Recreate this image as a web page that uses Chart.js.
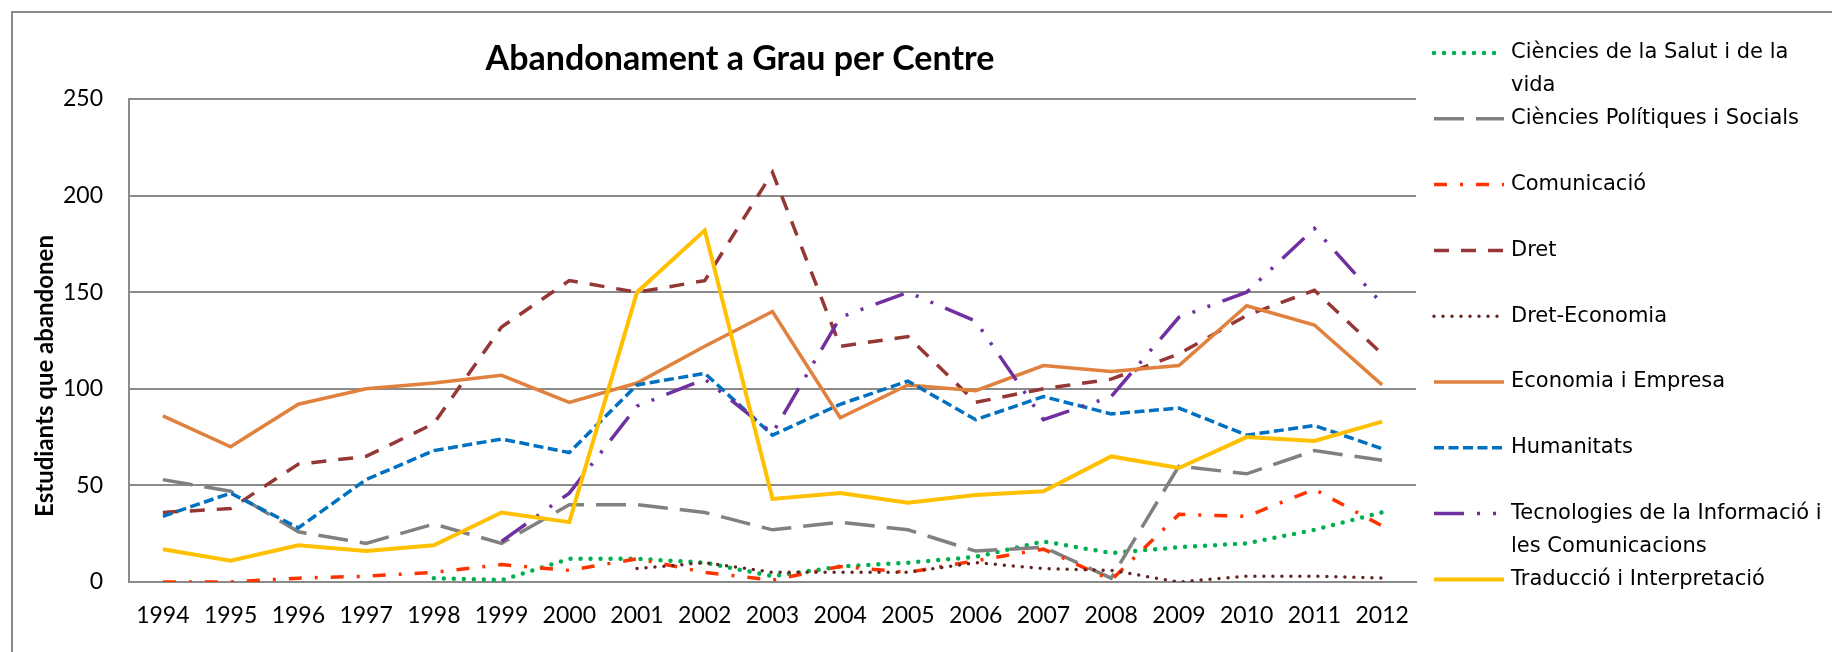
<!DOCTYPE html>
<html>
<head>
<meta charset="utf-8">
<title>Abandonament a Grau per Centre</title>
<script src="https://cdn.jsdelivr.net/npm/chart.js@4.4.0/dist/chart.umd.min.js"></script>
<style>
  html, body { margin: 0; padding: 0; background: #fff; }
  #wrap { position: relative; width: 1832px; height: 652px; overflow: hidden; }
</style>
</head>
<body>
<div id="wrap"><canvas id="grau" width="1832" height="652"></canvas></div>
<script>
// anys acadèmics
const years = ['1994', '1995', '1996', '1997', '1998', '1999', '2000', '2001', '2002', '2003',
               '2004', '2005', '2006', '2007', '2008', '2009', '2010', '2011', '2012'];

// estudiants que abandonen, per centre (null = el centre encara no tenia dades)
const salut       = [null, null, null, null, 2, 1, 12, 12, 10, 3, 8, 10, 13, 21, 15, 18, 20, 27, 36];
const politiques  = [53, 47, 26, 20, 30, 20, 40, 40, 36, 27, 31, 27, 16, 18, 2, 60, 56, 68, 63];
const comunicacio = [0, 0, 2, 3, 5, 9, 6, 12, 5, 1, 8, 5, 11, 17, 1, 35, 34, 48, 29];
const dret        = [36, 38, 61, 65, 82, 132, 156, 150, 156, 212, 122, 127, 93, 100, 105, 118, 138, 151, 118];
const dretEco     = [null, null, null, null, null, null, null, 7, 10, 5, 5, 5, 10, 7, 6, 0, 3, 3, 2];
const economia    = [86, 70, 92, 100, 103, 107, 93, 103, 122, 140, 85, 102, 99, 112, 109, 112, 143, 133, 102];
const humanitats  = [34, 46, 28, 53, 68, 74, 67, 102, 108, 76, 92, 104, 84, 96, 87, 90, 76, 81, 69];
const tecnologies = [null, null, null, null, null, 21, 46, 91, 105, 77, 137, 150, 135, 84, 96, 137, 150, 183, 144];
const traduccio   = [17, 11, 19, 16, 19, 36, 31, 150, 182, 43, 46, 41, 45, 47, 65, 59, 75, 73, 83];

const yTicks = [0, 50, 100, 150, 200, 250];

const GRID = '#8a8a8a';
const TICK_FONT = { family: 'Lato', size: 23 };

function serie(label, data, color, width, dash, cap) {
  return {
    label: label,
    data: data,
    borderColor: color,
    backgroundColor: color,
    borderWidth: width,
    borderDash: dash,
    borderCapStyle: cap || 'butt',
    fill: false,
    spanGaps: false
  };
}

const datasets = [
  serie('Ciències de la Salut i de la vida', salut, '#00b050', 4.5, [0, 10], 'round'),
  serie('Ciències Polítiques i Socials', politiques, '#808080', 3.5, [30, 12]),
  serie('Comunicació', comunicacio, '#ff3300', 3.5, [13, 13, 3, 13]),
  serie('Dret', dret, '#953735', 3.5, [15, 12]),
  serie('Dret-Economia', dretEco, '#632523', 3.5, [0, 9], 'round'),
  serie('Economia i Empresa', economia, '#e0823d', 3.5, []),
  serie('Humanitats', humanitats, '#0070c0', 3.5, [10, 4.5]),
  serie('Tecnologies de la Informació i les Comunicacions', tecnologies, '#7030a0', 3.5, [30, 13, 3, 13, 3, 13]),
  serie('Traducció i Interpretació', traduccio, '#ffc000', 4, [])
];
// l'últim centre queda pintat per sobre
datasets.forEach((d, i) => { d.order = datasets.length - i; });

function wrapWords(ctx, text, maxW) {
  const words = text.split(' ');
  const lines = [];
  let cur = '';
  words.forEach(w => {
    const test = cur ? cur + ' ' + w : w;
    if (cur && ctx.measureText(test).width > maxW) {
      lines.push(cur);
      cur = w;
    } else {
      cur = test;
    }
  });
  if (cur) lines.push(cur);
  return lines;
}

const decor = {
  id: 'decor',
  beforeDraw(chart) {
    const c = chart.ctx;
    c.save();
    c.fillStyle = '#fff';
    c.fillRect(0, 0, chart.width, chart.height);
    c.strokeStyle = GRID;
    c.lineWidth = 2;
    c.beginPath();
    c.moveTo(12, chart.height);
    c.lineTo(12, 12);
    c.lineTo(chart.width, 12);
    c.stroke();
    c.restore();
  },
  afterDraw(chart) {
    const c = chart.ctx;
    c.save();
    c.fillStyle = '#000';

    // títol
    c.font = 'bold 34px Lato';
    c.textAlign = 'center';
    c.textBaseline = 'middle';
    c.fillText('Abandonament a Grau per Centre', 740, 59);

    // títol de l'eix vertical
    c.save();
    c.translate(45, 376);
    c.rotate(-Math.PI / 2);
    c.font = 'bold 24px Lato';
    c.fillText('Estudiants que abandonen', 0, 0);
    c.restore();

    // llegenda: una franja fixa per entrada, text alineat a dalt
    c.font = '21px "DejaVu Sans"';
    c.textAlign = 'left';
    chart.data.datasets.forEach((ds, i) => {
      const y = 53 + i * 65.8;
      c.save();
      c.strokeStyle = ds.borderColor;
      c.lineWidth = ds.borderWidth;
      c.lineCap = ds.borderCapStyle;
      c.setLineDash(ds.borderDash);
      c.beginPath();
      c.moveTo(1434, y);
      c.lineTo(1504, y);
      c.stroke();
      c.restore();
      wrapWords(c, ds.label, 320).forEach((line, k) => {
        c.fillText(line, 1511, y + k * 33);
      });
    });
    c.restore();
  }
};

function draw() {
  new Chart(document.getElementById('grau'), {
    type: 'line',
    data: { labels: years, datasets: datasets },
    options: {
      responsive: false,
      animation: false,
      devicePixelRatio: 1,
      layout: { padding: { left: 0, top: 99, right: 416, bottom: 20 } },
      elements: { point: { radius: 0, hoverRadius: 0 }, line: { tension: 0 } },
      plugins: {
        legend: { display: false },
        title: { display: false },
        tooltip: { enabled: false }
      },
      scales: {
        x: {
          offset: true,
          grid: { display: false, drawTicks: false },
          border: { display: true, color: GRID, width: 2 },
          ticks: { color: '#000', font: TICK_FONT, padding: 20, maxRotation: 0, autoSkip: false },
          afterFit: s => { s.height = 50; }
        },
        y: {
          min: yTicks[0],
          max: yTicks[yTicks.length - 1],
          grid: { color: GRID, lineWidth: 2, drawTicks: false },
          border: { display: true, color: GRID, width: 2 },
          ticks: { color: '#000', font: TICK_FONT, padding: 26, stepSize: yTicks[1] - yTicks[0] },
          afterFit: s => { s.width = 129; }
        }
      }
    },
    plugins: [decor]
  });
}

Promise.all([
  document.fonts.load('23px Lato'),
  document.fonts.load('bold 34px Lato'),
  document.fonts.load('21px "DejaVu Sans"')
]).then(draw, draw);
</script>
</body>
</html>
